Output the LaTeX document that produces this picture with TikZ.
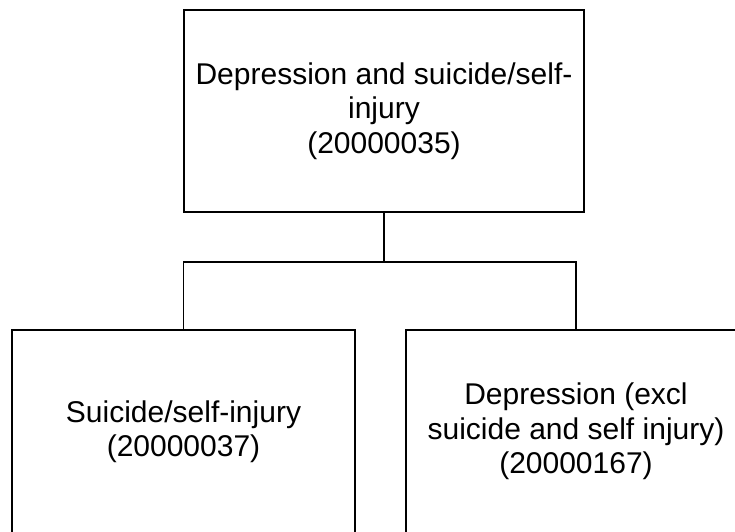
\documentclass[tikz,border=0pt]{standalone}
\usepackage{fontspec}
\setmainfont{Liberation Sans}
\begin{document}
\begin{tikzpicture}[x=1pt, y=-1pt,
    box/.style={draw, line width=1.1pt, align=center, inner sep=0pt,
        font=\fontsize{30}{34.5}\selectfont},
    link/.style={line width=1.1pt}]
\useasboundingbox (0,0) rectangle (735,531);
\clip (0,0) rectangle (735,531);
\node[box, minimum width=400, minimum height=202] (root) at (384,111)
    {Depression and suicide/self-\\injury\\(20000035)};
\node[box, minimum width=343, minimum height=203] (self) at (183.5,431.5)
    {Suicide/self-injury\\(20000037)};
\node[box, minimum width=340, minimum height=203] (depr) at (576,431.5)
    {Depression (excl\\suicide and self injury)\\(20000167)};
\coordinate (split) at (384,262);
\draw[link] (root.south) -- (split);
\foreach \kid in {self,depr}
{
    \draw[link] (split) -| (\kid.north);
}
\end{tikzpicture}
\end{document}
